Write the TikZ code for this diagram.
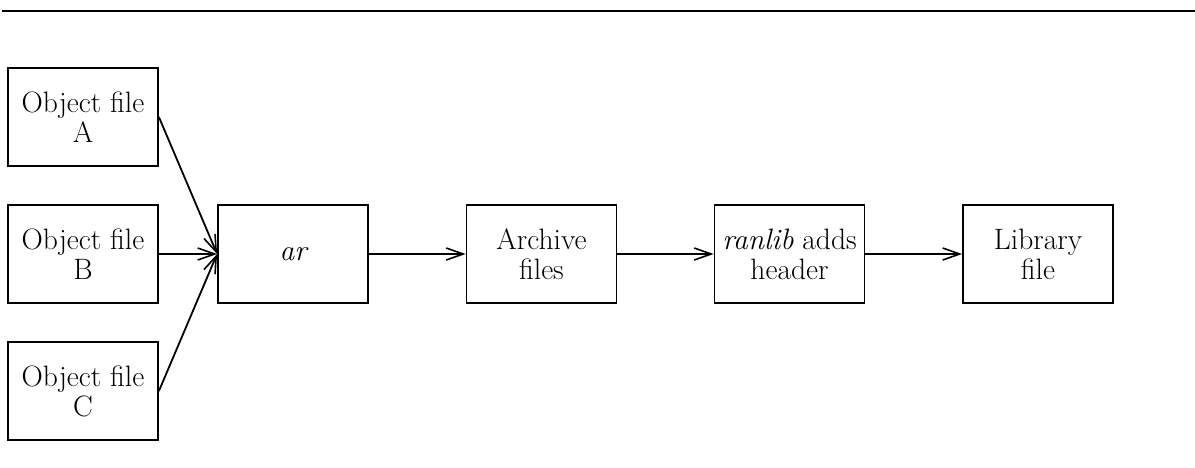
\documentclass[tikz,border=0pt]{standalone}
\usetikzlibrary{arrows.meta}
\begin{document}
\begin{tikzpicture}[x=1pt,y=-1pt,
  box/.style={draw,line width=1.8pt,minimum width=150pt,minimum height=98pt,inner sep=0pt,align=center,font=\fontsize{29.5}{30}\selectfont},
  conn/.style={line width=1.8pt,-{Straight Barb[length=17pt,width=12pt,line width=1.6pt]}}]
\useasboundingbox (0,0) rectangle (1195,467);
\draw[line width=2.4pt] (2,11) coordinate (rl) -- (1195,11) coordinate (rr);
\node[box] (a) at (83,117) {Object file\\A};
\node[box] (b) at (83,254) {Object file\\B};
\node[box] (c) at (83,391) {Object file\\C};
\node[box] (ar) at (293,254) {\itshape ar};
\node[box] (arch) at (541.5,254) {Archive\\files};
\node[box] (ran) at (789.5,254) {\textit{ranlib} adds\\header};
\node[box] (lib) at (1038,254) {Library\\file};
\draw[conn] (a.east) -- (ar.west);
\draw[conn] (b.east) -- (ar.west);
\draw[conn] (c.east) -- (ar.west);
\draw[conn] (ar) -- (arch);
\draw[conn] (arch) -- (ran);
\draw[conn] (ran) -- (lib);
\end{tikzpicture}
\end{document}
